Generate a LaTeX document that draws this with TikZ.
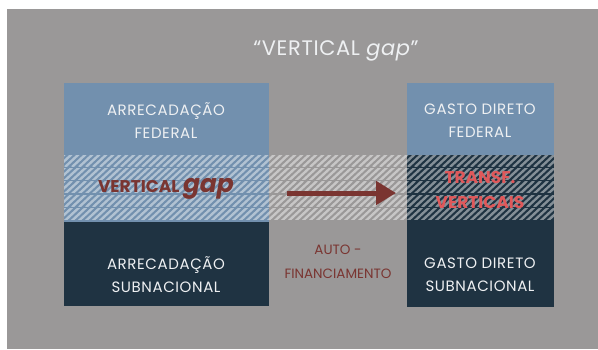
\documentclass[tikz,border=0pt]{standalone}
\usepackage{fontspec}
\setmainfont{Poppins}
\usetikzlibrary{positioning, arrows.meta}

\definecolor{bggrey}{HTML}{9A9898}
\definecolor{fedblue}{HTML}{7290AE}
\definecolor{subnavy}{HTML}{1F3342}
\definecolor{gapred}{HTML}{7A3531}
\definecolor{transfred}{HTML}{E0585A}
\definecolor{boxwhite}{HTML}{EEF0F2}

\tikzset{
    boxtext/.style={text=boxwhite, align=center, font=\fontsize{15}{23}\selectfont\addfontfeature{LetterSpace=4}},
    hatchline/.style={white, opacity=0.45, line width=2.4pt},
    gaparrow/.style={-{Triangle[length=20pt, width=23pt]}, gapred, line width=5pt}
}

\begin{document}
\begin{tikzpicture}[x=1pt, y=-1pt]
    \useasboundingbox (0,0) rectangle (598,349);
    \fill [bggrey] (7,9) rectangle (598,349);

    % blocks
    \fill [fedblue] (64,83) rectangle (269,222);
    \fill [subnavy] (64,222) rectangle (269,306);
    \fill [fedblue] (407,83) rectangle (554,155);
    \fill [subnavy] (407,155) rectangle (554,307);

    % hatched band
    \foreach \r in {0,...,4} {
        \begin{scope}
            \clip (64,155+\r*13.4) rectangle (554,166+\r*13.4);
            \foreach \x in {44,51,...,560}
                \draw [hatchline] (\x,167+\r*13.4) -- ++(14,-13);
        \end{scope}
    }

    \node (title) [text=boxwhite, font=\fontsize{21}{21}\selectfont\addfontfeature{LetterSpace=3}] at (336,51) {“VERTICAL \textit{gap}”};

    \node (arrfed) [boxtext] at (166,121) {ARRECADAÇÃO\\FEDERAL};
    \node (arrsub) [boxtext] at (166,275) {ARRECADAÇÃO\\SUBNACIONAL};
    \node (gasfed) [boxtext] at (480,121) {GASTO DIRETO\\FEDERAL};
    \node (gassub) [boxtext] at (480,275) {GASTO DIRETO\\SUBNACIONAL};

    \node (gap) [text=gapred, font=\fontsize{17}{17}\bfseries\selectfont] at (166,189) {VERTICAL \textit{\fontsize{25}{25}\selectfont gap}};
    \node (transf) [text=transfred, align=center, font=\fontsize{17}{25}\bfseries\selectfont] at (480,190) {TRANSF.\\VERTICAIS};
    \node (auto) [text=gapred, align=center, font=\fontsize{13.5}{24}\selectfont] at (338,262) {AUTO -\\FINANCIAMENTO};

    \coordinate (tail) at (287,193);
    \coordinate (head) at (396,193);
    \draw [gaparrow] (tail) -- (head);
\end{tikzpicture}
\end{document}
